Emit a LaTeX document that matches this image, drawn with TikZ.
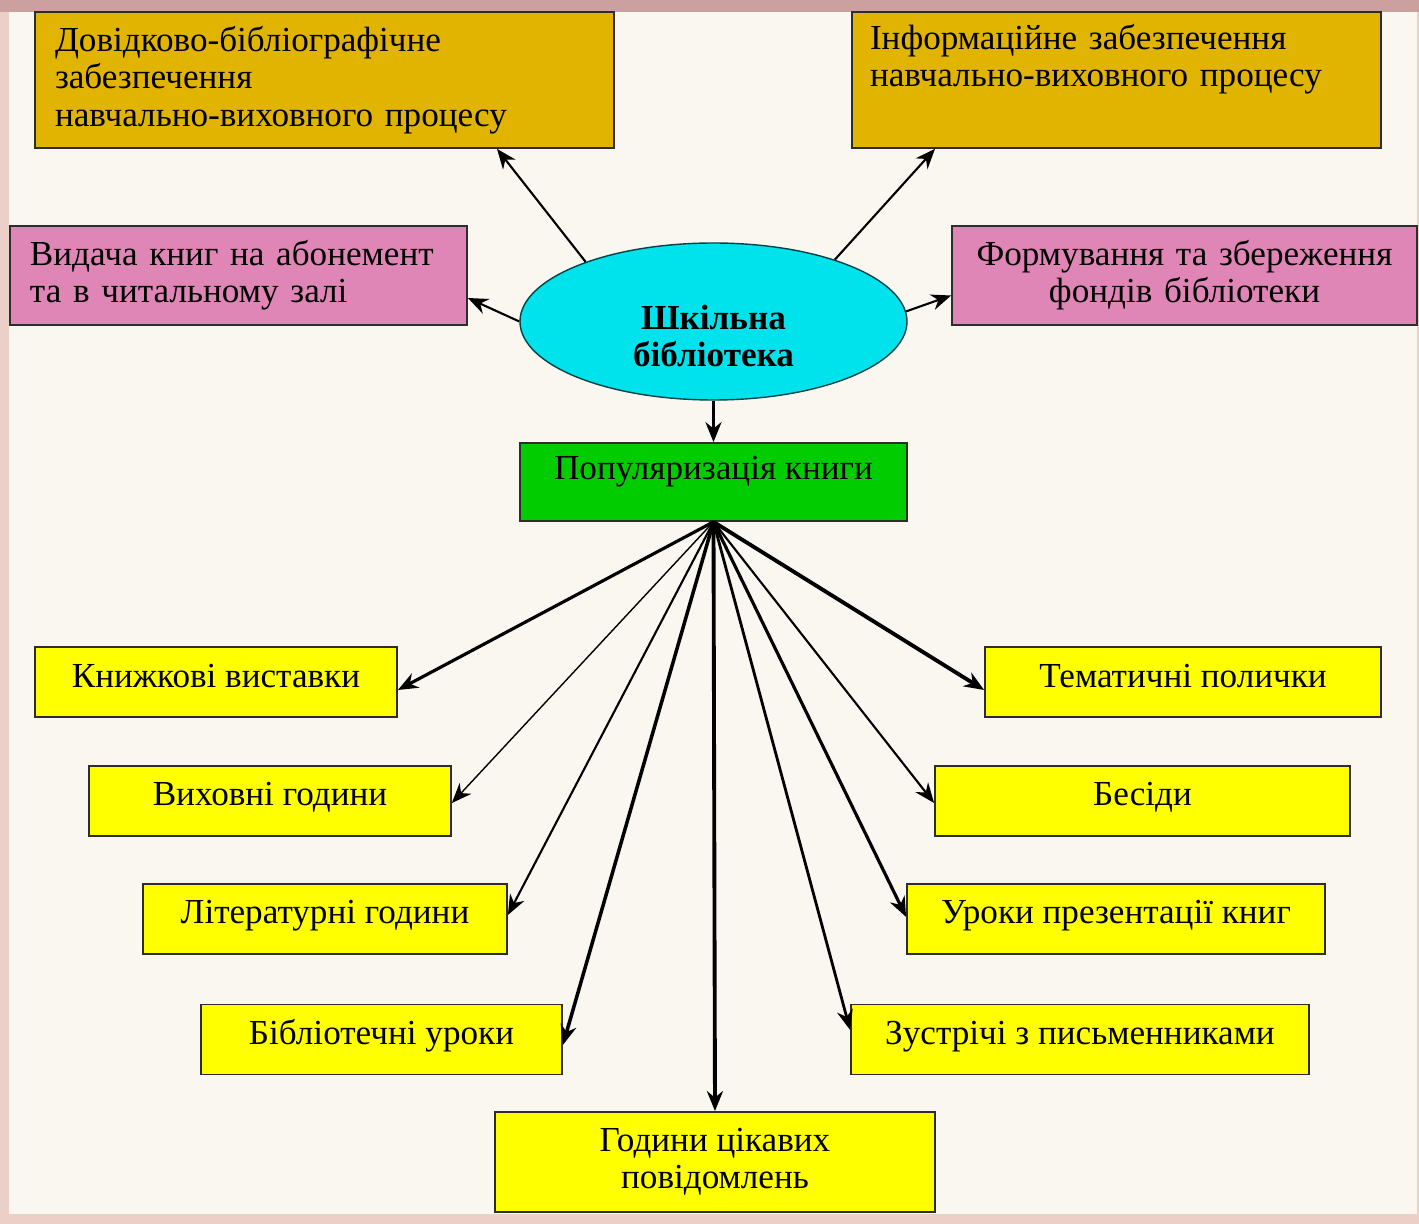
\documentclass[tikz,border=0pt]{standalone}
\usepackage{fontspec}
\setmainfont{Liberation Serif}
\usetikzlibrary{shapes.geometric, arrows.meta}

\definecolor{paper}{RGB}{250,247,240}
\definecolor{frame}{RGB}{236,208,200}
\definecolor{frametop}{RGB}{205,160,160}
\definecolor{goldbox}{RGB}{224,180,0}
\definecolor{pinkbox}{RGB}{224,134,182}
\definecolor{cyanbox}{RGB}{0,226,236}
\definecolor{greenbox}{RGB}{0,204,0}
\definecolor{yellowbox}{RGB}{255,255,0}
\definecolor{edge}{RGB}{45,45,45}

\begin{document}
\begin{tikzpicture}[
	every node/.style={font=\fontsize{10}{10.6}\selectfont},
	box/.style={draw=edge, line width=0.5pt, inner ysep=0pt},
	gold/.style={box, fill=goldbox, inner xsep=0.2cm, align=left},
	pink/.style={box, fill=pinkbox, inner xsep=0.2cm},
	yel/.style={box, fill=yellowbox, minimum height=0.7cm, text height=0.4cm, text depth=0.3cm},
	arr/.style={-{Stealth[length=2mm, width=1.6mm]}, line width=0.6pt}
]
					\fill[frame] (0,0) rectangle (14.19,-12.24);
					\fill[frametop] (0,0) rectangle (14.19,-0.12);
					\fill[paper] (0.09,-0.12) rectangle (14.17,-12.14);

					\node[gold, minimum width=5.79cm, minimum height=1.36cm, text width=5.39cm] (dov) at (3.245,-0.80)
						{Довідково-бібліографічне\\забезпечення\\навчально-виховного процесу};
					\node[gold, minimum width=5.29cm, minimum height=1.36cm, text width=4.93cm, inner xsep=0.18cm] (info) at (11.165,-0.80)
						{Інформаційне забезпечення\\навчально-виховного процесу\\ \strut};

					\node[pink, minimum width=4.57cm, minimum height=0.99cm, text width=4.17cm, align=left] (vyd) at (2.385,-2.755)
						{Видача книг на абонемент\\та в читальному залі};
					\node[pink, minimum width=4.65cm, minimum height=0.99cm, text width=4.25cm, align=center] (form) at (11.845,-2.755)
						{Формування та збереження\\фондів бібліотеки};

					\node[ellipse,
						draw=black!70!cyanbox,
						fill=cyanbox,
						minimum width=3.87cm,
						minimum height=1.57cm,
						inner sep=0pt,
						text height=0.58cm,
						text depth=0.02cm,
						font=\fontsize{10}{10.6}\selectfont\bfseries
					] (lib) at (7.135,-3.215) {\begin{tabular}{@{}c@{}}Шкільна\\бібліотека\end{tabular}};

					\node[box, fill=greenbox, minimum width=3.87cm, minimum height=0.78cm, text height=0.37cm, text depth=0.41cm] (pop) at (7.135,-4.82)
						{Популяризація книги};

					\node[yel, minimum width=3.62cm] (kn) at (2.16,-6.82) {Книжкові виставки};
					\node[yel, minimum width=3.62cm] (vyh) at (2.70,-8.01) {Виховні години};
					\node[yel, minimum width=3.64cm] (lit) at (3.25,-9.19) {Літературні години};
					\node[yel, minimum width=3.61cm] (bibl) at (3.815,-10.395) {Бібліотечні уроки};

					\node[yel, minimum width=3.96cm] (tem) at (11.83,-6.82) {Тематичні полички};
					\node[yel, minimum width=4.15cm] (bes) at (11.425,-8.01) {Бесіди};
					\node[yel, minimum width=4.18cm] (ur) at (11.16,-9.19) {Уроки презентації книг};
					\node[yel, minimum width=4.58cm] (zus) at (10.80,-10.395) {Зустрічі з письменниками};

					\node[box, fill=yellowbox, minimum width=4.40cm, minimum height=1.0cm, align=center] (hod) at (7.15,-11.62)
						{Години цікавих\\повідомлень};

					\draw[arr] (lib.155) -- ([xshift=1.725cm]dov.south);
					\draw[arr] (lib.27) -- ([xshift=-1.815cm]info.south);
					\draw[arr] (lib.west) -- ([yshift=-0.225cm]vyd.east);
					\draw[arr] (lib.3) -- ([yshift=-0.2cm]form.west);
					\draw[arr, line width=1pt] (lib.south) -- (pop.north);

					\draw[arr, line width=0.9pt] (pop.south) -- ([yshift=-0.08cm]kn.east);
					\draw[arr, line width=0.4pt] (pop.south) -- ([yshift=-0.02cm]vyh.east);
					\draw[arr, line width=0.6pt] (pop.south) -- ([yshift=0.04cm]lit.east);
					\draw[arr, line width=1pt] (pop.south) -- ([yshift=-0.055cm]bibl.east);
					\draw[arr, line width=1.1pt] (pop.south) -- (hod.north);
					\draw[arr, line width=1.1pt] (pop.south) -- ([yshift=-0.08cm]tem.west);
					\draw[arr, line width=0.6pt] (pop.south) -- ([yshift=-0.02cm]bes.west);
					\draw[arr, line width=0.9pt] (pop.south) -- ([yshift=0.02cm]ur.west);
					\draw[arr, line width=0.8pt] (pop.south) -- ([yshift=0.095cm]zus.west);
\end{tikzpicture}
\end{document}
